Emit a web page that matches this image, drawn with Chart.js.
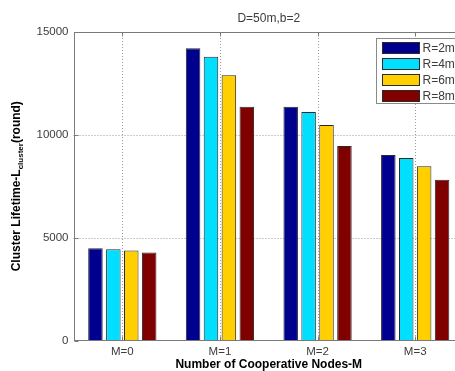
<!DOCTYPE html>
<html>
<head>
<meta charset="utf-8">
<script src="https://cdn.jsdelivr.net/npm/chart.js@4"></script>
<style>
  html, body { margin: 0; padding: 0; background: #fff; overflow: hidden; }
  #wrap { width: 455px; height: 371px; overflow: hidden; }
</style>
</head>
<body>
<div id="wrap"><canvas id="chart" width="470" height="371"></canvas></div>
<script>
// --- DATA ---
const categories = ['M=0', 'M=1', 'M=2', 'M=3'];
const seriesLabels = ['R=2m', 'R=4m', 'R=6m', 'R=8m'];
const r2m = [4490, 14210, 11370, 9020];
const r4m = [4440, 13800, 11110, 8870];
const r6m = [4370, 12900, 10480, 8470];
const r8m = [4280, 11370, 9460, 7820];
const yTicks = [0, 5000, 10000, 15000];

const seriesColors = ['#00008f', '#00dfff', '#ffcf00', '#800000'];
const TEXT = '#3c3c3c';
const AXIS = '#7a7a7a';
const FONT = '"Liberation Sans", Arial, sans-serif';

// grid, axes box, titles and legend (MATLAB look)
const matlabPlugin = {
  id: 'matlab',
  beforeDatasetsDraw(chart) {
    const { ctx, chartArea: a, scales: { x, y } } = chart;
    ctx.save();
    ctx.strokeStyle = '#9a9a9a';
    ctx.lineWidth = 1;
    ctx.setLineDash([1, 2]);
    categories.forEach((c, i) => {
      const px = Math.round(x.getPixelForValue(i)) + 0.5;
      ctx.beginPath(); ctx.moveTo(px, a.top); ctx.lineTo(px, a.bottom); ctx.stroke();
    });
    yTicks.slice(1, -1).forEach(v => {
      const py = Math.round(y.getPixelForValue(v)) + 0.5;
      ctx.beginPath(); ctx.moveTo(a.left, py); ctx.lineTo(a.right, py); ctx.stroke();
    });
    ctx.restore();
  },
  afterDraw(chart) {
    const { ctx, chartArea: a, scales: { x, y } } = chart;
    ctx.save();
    // axes box
    ctx.strokeStyle = AXIS;
    ctx.lineWidth = 1;
    ctx.setLineDash([]);
    const L = Math.round(a.left) + 0.5, R = Math.round(a.right) - 0.5;
    const T = Math.round(a.top) + 0.5, B = Math.round(a.bottom) - 0.5;
    ctx.strokeRect(L, T, R - L, B - T);
    // inner ticks
    ctx.beginPath();
    yTicks.forEach(v => {
      const py = Math.round(y.getPixelForValue(v)) + 0.5;
      ctx.moveTo(L, py); ctx.lineTo(L + 4, py);
    });
    categories.forEach((c, i) => {
      const px = Math.round(x.getPixelForValue(i)) + 0.5;
      ctx.moveTo(px, B); ctx.lineTo(px, B - 4);
      ctx.moveTo(px, T); ctx.lineTo(px, T + 4);
    });
    ctx.stroke();

    // title
    const cx = (a.left + a.right) / 2;
    ctx.fillStyle = TEXT;
    ctx.textAlign = 'center';
    ctx.textBaseline = 'middle';
    ctx.font = '12px ' + FONT;
    ctx.fillText('D=50m,b=2', cx, 19);

    // x title
    ctx.font = 'bold 12px ' + FONT;
    ctx.fillStyle = '#000';
    ctx.fillText('Number of Cooperative Nodes-M', cx, 365);

    // y title with subscript
    ctx.save();
    ctx.translate(17, (a.top + a.bottom) / 2);
    ctx.rotate(-Math.PI / 2);
    ctx.textAlign = 'left';
    const p1 = 'Cluster Lifetime-L', p2 = 'cluster', p3 = '(round)';
    ctx.font = 'bold 12px ' + FONT;
    const w1 = ctx.measureText(p1).width, w3 = ctx.measureText(p3).width;
    ctx.font = 'bold 8px ' + FONT;
    const w2 = ctx.measureText(p2).width;
    let sx = -(w1 + w2 + w3) / 2;
    ctx.font = 'bold 12px ' + FONT;
    ctx.fillText(p1, sx, 0);
    ctx.font = 'bold 8px ' + FONT;
    ctx.fillText(p2, sx + w1, 4);
    ctx.font = 'bold 12px ' + FONT;
    ctx.fillText(p3, sx + w1 + w2, 0);
    ctx.restore();

    // legend
    const lx = 376.5, ly = 38.5, lw = 100, lh = 65;
    ctx.fillStyle = '#fff';
    ctx.fillRect(lx, ly, lw, lh);
    ctx.strokeStyle = '#8a8a8a';
    ctx.strokeRect(lx, ly, lw, lh);
    ctx.font = '12px ' + FONT;
    ctx.textAlign = 'left';
    chart.data.datasets.forEach((ds, i) => {
      const ry = 42.5 + i * 16;
      ctx.fillStyle = ds.backgroundColor;
      ctx.fillRect(382.5, ry, 37, 11);
      ctx.strokeStyle = '#2a2a2a';
      ctx.strokeRect(382.5, ry, 37, 11);
      ctx.fillStyle = TEXT;
      ctx.fillText(ds.label, 422.5, ry + 6);
    });
    ctx.restore();
  }
};

const seriesData = [r2m, r4m, r6m, r8m];

new Chart(document.getElementById('chart'), {
  type: 'bar',
  data: {
    labels: categories,
    datasets: seriesLabels.map((label, i) => ({
      label: label,
      data: seriesData[i],
      backgroundColor: seriesColors[i],
      borderColor: '#2a2a2a',
      borderWidth: 1,
      categoryPercentage: 0.734,
      barPercentage: 0.81
    }))
  },
  options: {
    responsive: false,
    animation: false,
    devicePixelRatio: 1,
    layout: { padding: { top: 32, right: 6, left: 0, bottom: 0 } },
    plugins: {
      legend: { display: false },
      title: { display: false },
      tooltip: { enabled: false }
    },
    scales: {
      x: {
        grid: { display: false, drawTicks: false },
        border: { display: false },
        ticks: { color: TEXT, font: { family: FONT, size: 11.5 }, padding: 4 },
        afterFit: s => { s.height = 30.5; }
      },
      y: {
        min: 0,
        max: 15000,
        grid: { display: false, drawTicks: false },
        border: { display: false },
        ticks: {
          color: TEXT,
          font: { family: FONT, size: 11.5 },
          padding: 5,
          stepSize: 5000,
          callback: v => yTicks.includes(v) ? String(v) : ''
        },
        afterFit: s => { s.width = 73.5; }
      }
    }
  },
  plugins: [matlabPlugin]
});
</script>
</body>
</html>
